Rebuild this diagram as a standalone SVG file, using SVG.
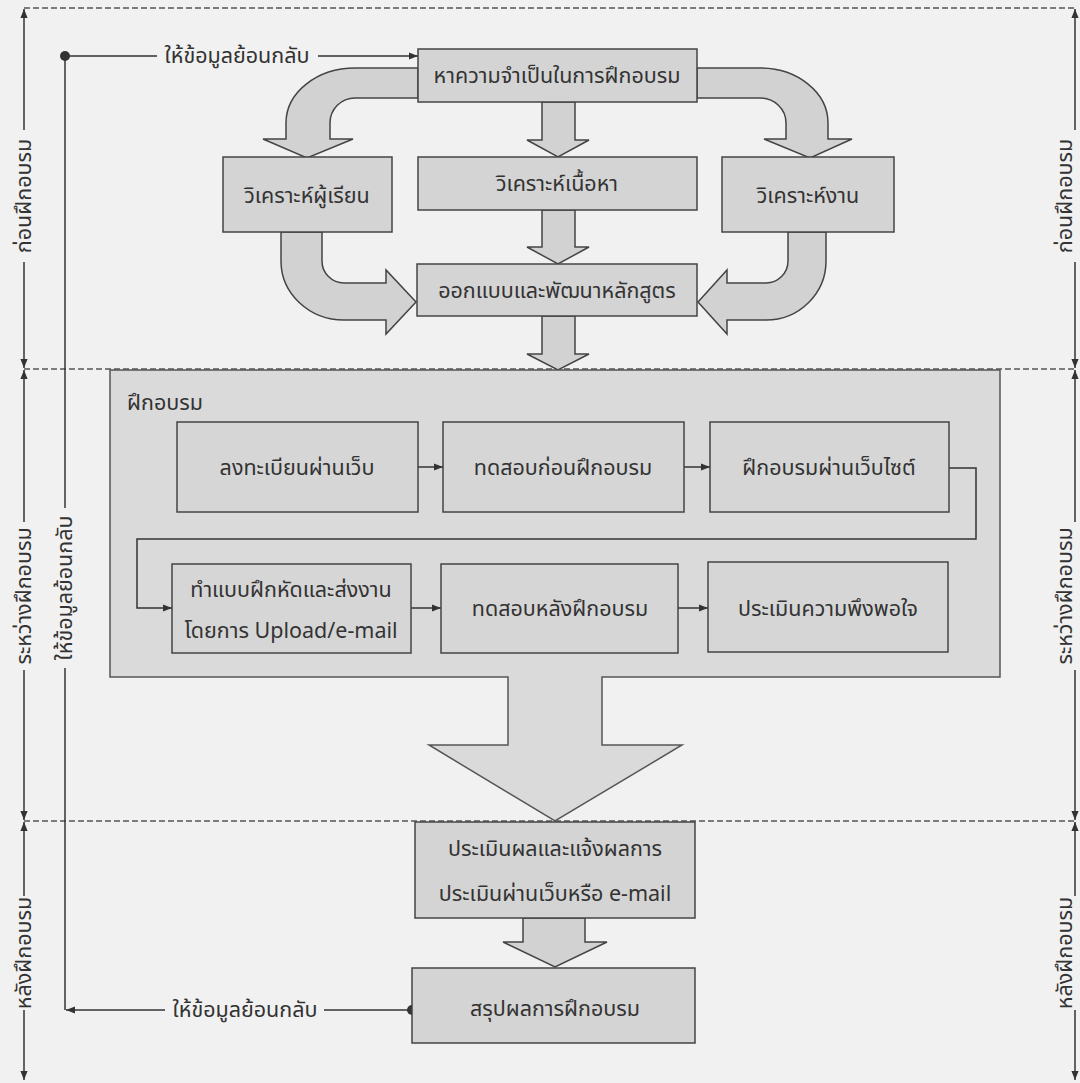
<svg xmlns="http://www.w3.org/2000/svg" width="1080" height="1083" viewBox="0 0 1080 1083">
<defs>
<style>
.bg{fill:#f1f1f1}
.box{fill:#d4d4d4;stroke:#444;stroke-width:1.5}
.cont{fill:#dadada;stroke:#555;stroke-width:1.5}
.inbox{fill:#d6d6d6;stroke:#444;stroke-width:1.5}
.barrow{fill:#d2d2d2;stroke:#444;stroke-width:1.5}
.ln{fill:none;stroke:#333;stroke-width:1.5}
.dash{fill:none;stroke:#555;stroke-width:1.3;stroke-dasharray:6 3}
.t{font-family:"Noto Sans Thai","Noto Sans","DejaVu Sans",sans-serif;font-size:21.5px;fill:#333;text-anchor:middle}
.tl{text-anchor:start}
.dot{fill:#333}
</style>
<marker id="ah" viewBox="0 0 10 10" refX="10" refY="5" markerWidth="9" markerHeight="9" markerUnits="userSpaceOnUse" orient="auto">
<path d="M0,1 L10,5 L0,9 Z" fill="#333"/>
</marker>
<marker id="ta" viewBox="0 0 10 10" refX="10" refY="5" markerWidth="9" markerHeight="9" markerUnits="userSpaceOnUse" orient="auto-start-reverse">
<path d="M0,1 L10,5 L0,9 Z" fill="#333"/>
</marker>
</defs>
<rect class="bg" x="0" y="0" width="1080" height="1083"/>

<g id="phase-lines">
<path class="dash" d="M24,8 H1075"/>
<path class="dash" d="M24,369 H1075"/>
<path class="dash" d="M24,821 H1075"/>
</g>

<g id="timeline-left">
<path class="ln" d="M24,130 V9" marker-end="url(#ta)"/>
<path class="ln" d="M24,262 V368" marker-end="url(#ta)"/>
<text class="t" transform="translate(31,196) rotate(-90)">ก่อนฝึกอบรม</text>
<path class="ln" d="M24,522 V370" marker-end="url(#ta)"/>
<path class="ln" d="M24,670 V820" marker-end="url(#ta)"/>
<text class="t" transform="translate(31,596) rotate(-90)">ระหว่างฝึกอบรม</text>
<path class="ln" d="M24,896 V822" marker-end="url(#ta)"/>
<path class="ln" d="M24,1010 V1080" marker-end="url(#ta)"/>
<text class="t" transform="translate(31,953) rotate(-90)">หลังฝึกอบรม</text>
</g>

<g id="timeline-right">
<path class="ln" d="M1075,130 V9" marker-end="url(#ta)"/>
<path class="ln" d="M1075,262 V368" marker-end="url(#ta)"/>
<text class="t" transform="translate(1072,196) rotate(-90)">ก่อนฝึกอบรม</text>
<path class="ln" d="M1075,522 V370" marker-end="url(#ta)"/>
<path class="ln" d="M1075,670 V820" marker-end="url(#ta)"/>
<text class="t" transform="translate(1072,596) rotate(-90)">ระหว่างฝึกอบรม</text>
<path class="ln" d="M1075,896 V822" marker-end="url(#ta)"/>
<path class="ln" d="M1075,1010 V1080" marker-end="url(#ta)"/>
<text class="t" transform="translate(1072,953) rotate(-90)">หลังฝึกอบรม</text>
</g>

<g id="connectors">
<path class="barrow" d="M418,68 L355,68 A69,55 0 0 0 286,123 L286,139 L263,139 L307,158 L353,139 L330,139 L330,123 A25,25 0 0 1 355,98 L418,98 Z"/>
<path class="barrow" d="M697,68 L760,68 A68,55 0 0 1 828,123 L828,139 L852,139 L810,158 L764,139 L786,139 L786,123 A26,25 0 0 0 760,98 L697,98 Z"/>
<path class="barrow" d="M281,232 L281,261 A63,59 0 0 0 344,320 L386,320 L386,334 L416,302 L386,270 L386,283 L344,283 A22,22 0 0 1 322,261 L322,232 Z"/>
<path class="barrow" d="M826,232 L826,261 A60,59 0 0 1 766,320 L727,320 L727,334 L698,302 L727,270 L727,283 L766,283 A22,22 0 0 0 788,261 L788,232 Z"/>
<path class="barrow" d="M542,102 L575,102 L575,140 L589,140 L558,157 L527,140 L542,140 Z"/>
<path class="barrow" d="M542,210 L575,210 L575,247 L589,247 L558,264 L527,247 L542,247 Z"/>
<path class="barrow" d="M542,316 L575,316 L575,354 L589,354 L558,370 L527,354 L542,354 Z"/>
<path class="barrow" d="M523,918 L585,918 L585,942 L607,942 L555,967 L503,942 L523,942 Z"/>
<path class="ln" d="M65,56 H157"/>
<path class="ln" d="M318,56 H418" marker-end="url(#ah)"/>
<path class="ln" d="M65,56 V508"/>
<path class="ln" d="M65,668 V1010"/>
<path class="ln" d="M412,1010 H324"/>
<path class="ln" d="M165,1010 H66" marker-end="url(#ah)"/>
<circle class="dot" cx="65" cy="56" r="5"/>
<circle class="dot" cx="412" cy="1010" r="5"/>
<text class="t" x="237" y="63">ให้ข้อมูลย้อนกลับ</text>
<text class="t" x="245" y="1017">ให้ข้อมูลย้อนกลับ</text>
<text class="t" transform="translate(72,588) rotate(-90)">ให้ข้อมูลย้อนกลับ</text>
</g>

<g id="training">
<path class="cont" d="M110,370 H1000 V677 H602 V745 H682 L555,821 L429,745 H508 V677 H110 Z"/>
<text class="t tl" x="127" y="410">ฝึกอบรม</text>
</g>

<g id="training-connectors">
<path class="ln" d="M418,467 H443" marker-end="url(#ah)"/>
<path class="ln" d="M684,467 H710" marker-end="url(#ah)"/>
<path class="ln" d="M949,468 H976 V539 H137 V608 H172" marker-end="url(#ah)"/>
<path class="ln" d="M411,608 H441" marker-end="url(#ah)"/>
<path class="ln" d="M678,608 H708" marker-end="url(#ah)"/>
</g>

<g id="n-needs"><rect class="box" x="418" y="49" width="279" height="53"/><text class="t" x="557" y="83">หาความจำเป็นในการฝึกอบรม</text></g>
<g id="n-learner"><rect class="box" x="223" y="157" width="169" height="75"/><text class="t" x="307" y="203">วิเคราะห์ผู้เรียน</text></g>
<g id="n-content"><rect class="box" x="418" y="157" width="279" height="53"/><text class="t" x="557" y="191">วิเคราะห์เนื้อหา</text></g>
<g id="n-task"><rect class="box" x="722" y="157" width="172" height="75"/><text class="t" x="808" y="203">วิเคราะห์งาน</text></g>
<g id="n-design"><rect class="box" x="417" y="264" width="280" height="52"/><text class="t" x="557" y="298">ออกแบบและพัฒนาหลักสูตร</text></g>

<g id="n-register"><rect class="inbox" x="177" y="422" width="241" height="90"/><text class="t" x="297" y="475">ลงทะเบียนผ่านเว็บ</text></g>
<g id="n-pretest"><rect class="inbox" x="443" y="422" width="241" height="90"/><text class="t" x="563" y="475">ทดสอบก่อนฝึกอบรม</text></g>
<g id="n-webtrain"><rect class="inbox" x="710" y="422" width="239" height="90"/><text class="t" x="829" y="475">ฝึกอบรมผ่านเว็บไซต์</text></g>
<g id="n-exercise"><rect class="inbox" x="172" y="564" width="239" height="89"/><text class="t" x="291" y="597">ทำแบบฝึกหัดและส่งงาน</text><text class="t" x="291" y="638">โดยการ Upload/e-mail</text></g>
<g id="n-posttest"><rect class="inbox" x="441" y="564" width="237" height="89"/><text class="t" x="560" y="616">ทดสอบหลังฝึกอบรม</text></g>
<g id="n-satisfaction"><rect class="inbox" x="708" y="562" width="240" height="90"/><text class="t" x="828" y="616">ประเมินความพึงพอใจ</text></g>

<g id="n-evaluate"><rect class="box" x="415" y="822" width="280" height="96"/><text class="t" x="555" y="856">ประเมินผลและแจ้งผลการ</text><text class="t" x="555" y="901">ประเมินผ่านเว็บหรือ e-mail</text></g>
<g id="n-summary"><rect class="box" x="412" y="968" width="283" height="75"/><text class="t" x="555" y="1016">สรุปผลการฝึกอบรม</text></g>
</svg>
